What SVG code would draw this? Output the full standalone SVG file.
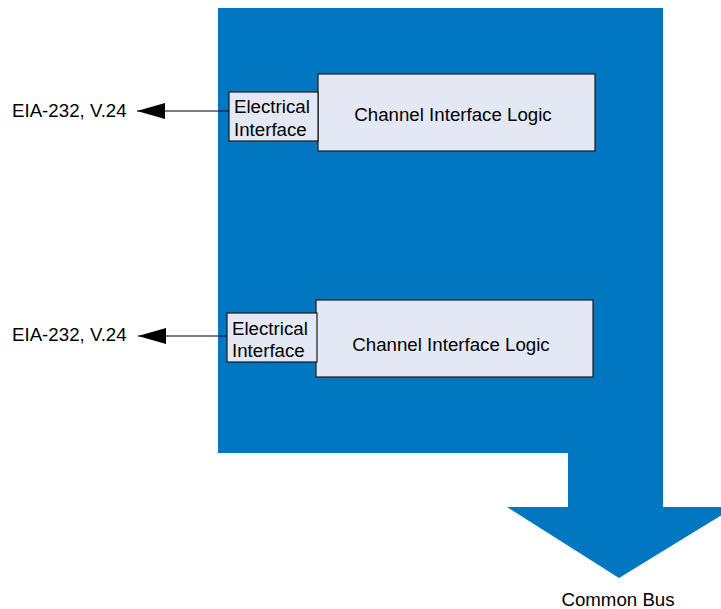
<svg xmlns="http://www.w3.org/2000/svg" width="721" height="609" viewBox="0 0 721 609">
<style>
.bg{fill:#0077C0}
.box{fill:#E4E8F4;stroke:#1a1a1a;stroke-width:1.2}
.t{font-family:"Liberation Sans",Arial,sans-serif;font-size:18.7px;fill:#000}
.ln{stroke:#000;stroke-width:1.2;fill:none}
</style>
<defs>
<marker id="ah" markerWidth="28" markerHeight="16" refX="28" refY="8" orient="auto" markerUnits="userSpaceOnUse">
<path d="M0,0 L28,8 L0,16 Z" fill="#000"/>
</marker>
</defs>
<g id="board">
<path class="bg" d="M218,8 H663 V507 H735 L619,578 L507,507 H568 V453 H218 Z"/>
</g>
<g id="connectors">
<line class="ln" x1="229" y1="111" x2="137" y2="111" marker-end="url(#ah)"/>
<line class="ln" x1="227" y1="336" x2="138" y2="336" marker-end="url(#ah)"/>
</g>
<g id="cil1">
<rect class="box" x="318" y="74" width="277" height="77"/>
<text class="t" x="453" y="121" text-anchor="middle">Channel Interface Logic</text>
</g>
<g id="ei1">
<rect class="box" x="229" y="92" width="89" height="49"/>
<text class="t" x="234" y="113">Electrical</text>
<text class="t" x="234" y="136">Interface</text>
</g>
<g id="cil2">
<rect class="box" x="316" y="300" width="277" height="77"/>
<text class="t" x="451" y="351" text-anchor="middle">Channel Interface Logic</text>
</g>
<g id="ei2">
<rect class="box" x="227" y="313" width="90" height="49"/>
<text class="t" x="232" y="335">Electrical</text>
<text class="t" x="232" y="357">Interface</text>
</g>
<g id="labels">
<text class="t" x="12" y="117">EIA-232, V.24</text>
<text class="t" x="12" y="341">EIA-232, V.24</text>
<text class="t" x="618" y="606" text-anchor="middle">Common Bus</text>
</g>
</svg>
